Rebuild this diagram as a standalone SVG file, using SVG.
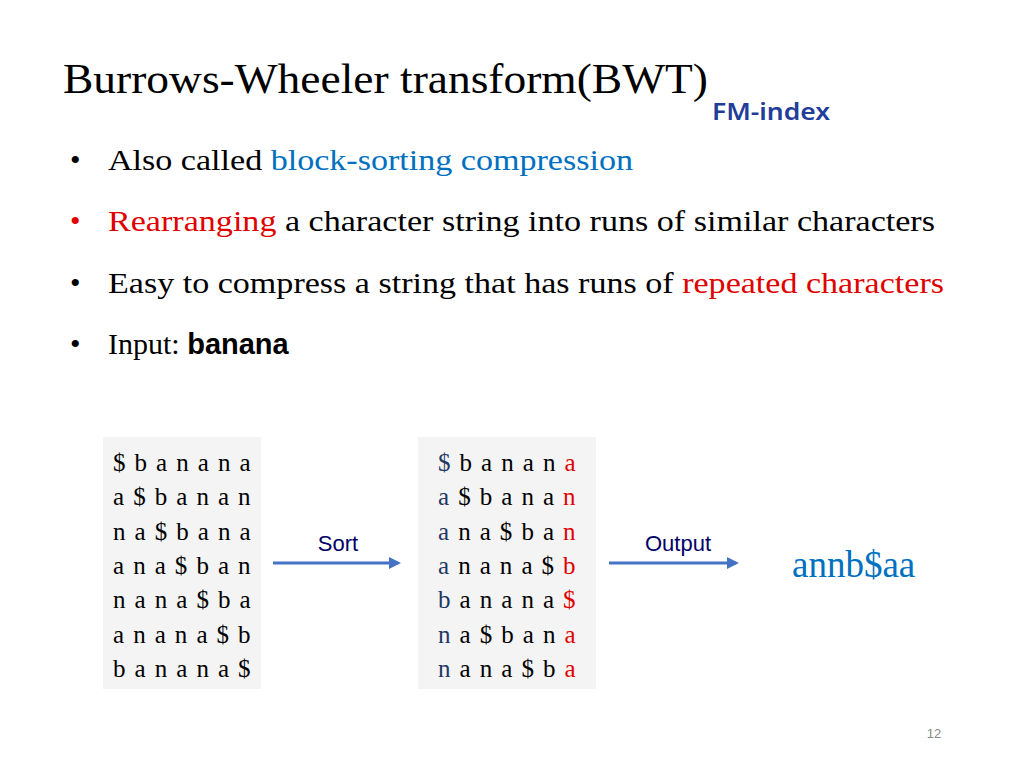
<svg xmlns="http://www.w3.org/2000/svg" width="1024" height="768" viewBox="0 0 1024 768">
<style>
.s{font-family:"Liberation Serif",serif}
.b{font-size:30px;fill:#000}
.m{font-size:25px;fill:#000;white-space:pre;letter-spacing:1.4px}
.c1{fill:#1F3864}.r{fill:#E00000}
.lab{font-family:"Liberation Sans",Arial,sans-serif;font-size:22px;fill:#000066}
</style>
<defs><marker id="ah" markerWidth="4" markerHeight="4" refX="3" refY="2" orient="auto"><path d="M0,0L4,2L0,4z" fill="#4472C4"/></marker></defs>
<rect width="1024" height="768" fill="#fff"/>
<text class="s" x="63" y="93" font-size="42" textLength="645" lengthAdjust="spacingAndGlyphs">Burrows-Wheeler transform(BWT)</text>
<text x="712" y="120" font-family="Noto Sans,sans-serif" font-size="24" font-weight="600" fill="#1F3D99" textLength="118" lengthAdjust="spacingAndGlyphs">FM-index</text>
<g class="s b">
<text x="70" y="170">•</text><text x="108" y="170" textLength="525" lengthAdjust="spacingAndGlyphs">Also called <tspan fill="#0070C0">block-sorting compression</tspan></text>
<text x="70" y="231" fill="#E00000">•</text><text x="108" y="231" textLength="827" lengthAdjust="spacingAndGlyphs"><tspan fill="#E00000">Rearranging</tspan> a character string into runs of similar characters</text>
<text x="70" y="293">•</text><text x="108" y="293" textLength="836" lengthAdjust="spacingAndGlyphs">Easy to compress a string that has runs of <tspan fill="#E00000">repeated characters</tspan></text>
<text x="70" y="354">•</text><text x="108" y="354">Input: <tspan font-family="Liberation Sans,Arial,sans-serif" font-weight="bold" font-size="29">banana</tspan></text>
</g>
<g id="left"><rect x="103" y="437" width="158" height="252" fill="#F4F4F4"/>
<g class="s m">
<text x="113" y="471">$ b a n a n a</text>
<text x="113" y="505">a $ b a n a n</text>
<text x="113" y="540">n a $ b a n a</text>
<text x="113" y="574">a n a $ b a n</text>
<text x="113" y="608">n a n a $ b a</text>
<text x="113" y="643">a n a n a $ b</text>
<text x="113" y="677">b a n a n a $</text>
</g></g>
<g id="right"><rect x="418" y="437" width="178" height="252" fill="#F4F4F4"/>
<g class="s m">
<text x="438" y="471"><tspan class="c1">$</tspan> b a n a n <tspan class="r">a</tspan></text>
<text x="438" y="505"><tspan class="c1">a</tspan> $ b a n a <tspan class="r">n</tspan></text>
<text x="438" y="540"><tspan class="c1">a</tspan> n a $ b a <tspan class="r">n</tspan></text>
<text x="438" y="574"><tspan class="c1">a</tspan> n a n a $ <tspan class="r">b</tspan></text>
<text x="438" y="608"><tspan class="c1">b</tspan> a n a n a <tspan class="r">$</tspan></text>
<text x="438" y="643"><tspan class="c1">n</tspan> a $ b a n <tspan class="r">a</tspan></text>
<text x="438" y="677"><tspan class="c1">n</tspan> a n a $ b <tspan class="r">a</tspan></text>
</g></g>
<g id="connectors" stroke="#4472C4" stroke-width="3" fill="none">
<line x1="273" y1="563" x2="398" y2="563" marker-end="url(#ah)"/>
<line x1="609" y1="563" x2="736" y2="563" marker-end="url(#ah)"/>
</g>
<text class="lab" x="338" y="551" text-anchor="middle">Sort</text>
<text class="lab" x="678" y="551" text-anchor="middle">Output</text>
<text class="s" x="792" y="577" font-size="37" fill="#0070C0">annb$aa</text>
<text x="934" y="738" font-family="Liberation Sans,sans-serif" font-size="13" fill="#888" text-anchor="middle">12</text>
</svg>
